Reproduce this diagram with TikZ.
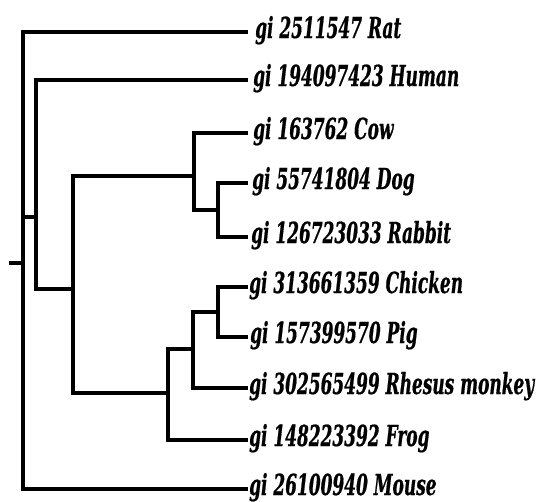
\documentclass[tikz,border=0pt]{standalone}
\usepackage{fontspec}
\newfontfamily\labfont{DejaVu Serif}[FakeStretch=0.585,FakeBold=0.6]
\begin{document}
\begin{tikzpicture}[x=1pt,y=-1pt,
  branch/.style={line width=4.5pt,line join=miter,line cap=butt,black},
  shade/.style={line width=3pt,gray!35},
  leaflab/.style={anchor=base west,inner sep=0pt,font=\labfont\bfseries\itshape\fontsize{29}{31}\selectfont}]
\path[use as bounding box,fill=white] (0,0) rectangle (540,501);
% internal nodes (x of vertical, y of joint to parent)
\coordinate (root) at (23,263);
\coordinate (tick) at (9,263);
\coordinate (nH) at (36,217);
\coordinate (nBig) at (73,289);
\coordinate (nCDR) at (194,176);
\coordinate (nDR) at (218,210);
\coordinate (nCPRF) at (168,393);
\coordinate (nCPR) at (193,349);
\coordinate (nCP) at (218,312);
% leaf ends
\coordinate (lRat) at (248,32);
\coordinate (lHuman) at (248,80);
\coordinate (lCow) at (248,133);
\coordinate (lDog) at (248,183);
\coordinate (lRabbit) at (248,237);
\coordinate (lChicken) at (248,287);
\coordinate (lPig) at (248,337);
\coordinate (lRhesus) at (248,388);
\coordinate (lFrog) at (248,440);
\coordinate (lMouse) at (248,489);
% shadows
\begin{scope}[yshift=3pt]
\foreach \p/\c in {root/lRat,nH/lHuman,nCDR/lCow,nDR/lDog,nDR/lRabbit,nCP/lChicken,nCP/lPig,nCPR/lRhesus,nCPRF/lFrog,root/lMouse,nBig/nCPRF,nBig/nCDR,nH/nBig,nCPR/nCP,nCPRF/nCPR,nCDR/nDR}
  \draw[shade] ([xshift=2pt]\p |- \c) -- (\c);
\end{scope}
% branches
\draw[branch] (tick) -- (root);
\foreach \p/\c in {root/lRat,root/lMouse,root/nH,nH/lHuman,nH/nBig,nBig/nCDR,nBig/nCPRF,nCDR/lCow,nCDR/nDR,nDR/lDog,nDR/lRabbit,nCPRF/lFrog,nCPRF/nCPR,nCPR/lRhesus,nCPR/nCP,nCP/lChicken,nCP/lPig}
  \draw[branch] (\p) |- (\c);
% labels
\node[leaflab] (tRat) at ([xshift=7pt,yshift=-6pt]lRat) {gi 2511547 Rat};
\node[leaflab] (tHuman) at ([xshift=5pt,yshift=-6pt]lHuman) {gi 194097423 Human};
\node[leaflab] (tCow) at ([xshift=5pt,yshift=-6pt]lCow) {gi 163762 Cow};
\node[leaflab] (tDog) at ([xshift=4pt,yshift=-6pt]lDog) {gi 55741804 Dog};
\node[leaflab] (tRabbit) at ([xshift=3pt,yshift=-6pt]lRabbit) {gi 126723033 Rabbit};
\node[leaflab] (tChicken) at ([xshift=1pt,yshift=-6pt]lChicken) {gi 313661359 Chicken};
\node[leaflab] (tPig) at ([xshift=2pt,yshift=-6pt]lPig) {gi 157399570 Pig};
\node[leaflab] (tRhesus) at ([xshift=1pt,yshift=-6pt]lRhesus) {gi 302565499 Rhesus monkey};
\node[leaflab] (tFrog) at ([xshift=1pt,yshift=-6pt]lFrog) {gi 148223392 Frog};
\node[leaflab] (tMouse) at ([xshift=1pt,yshift=-6pt]lMouse) {gi 26100940 Mouse};
\end{tikzpicture}
\end{document}
